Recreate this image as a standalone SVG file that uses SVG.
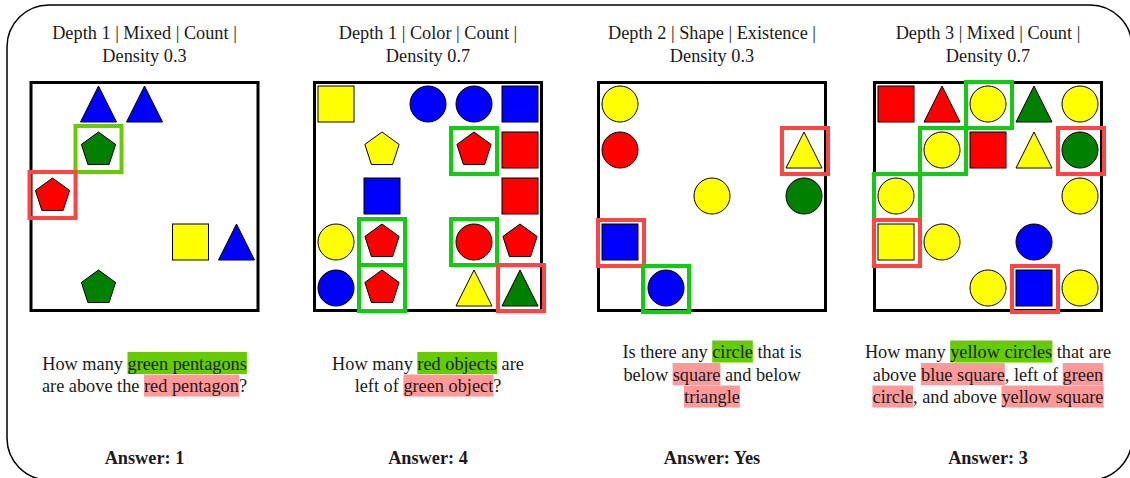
<svg xmlns="http://www.w3.org/2000/svg" xmlns:xlink="http://www.w3.org/1999/xlink" width="1130" height="478" viewBox="0 0 1130 478">
<style>
.sh{stroke:#000;stroke-width:1}
.r{fill:#ff0000}.b{fill:#0000ff}.y{fill:#ffff00}.g{fill:#008000}
.frame{fill:#fff;stroke:#000;stroke-width:3}
.bg{fill:none;stroke:#11cc11;stroke-width:4}
.bg1{fill:none;stroke:#66cc00;stroke-width:4}
.br{fill:none;stroke:#ff4444;stroke-width:4}
.title{font-family:"Liberation Serif","Times New Roman",serif;font-size:18.3px;fill:#1a1a1a;text-anchor:middle}
.q{font-family:"Liberation Serif","Times New Roman",serif;font-size:18.3px;fill:#1a1a1a;text-anchor:middle}
.ans{font-family:"Liberation Serif","Times New Roman",serif;font-size:18.3px;font-weight:bold;fill:#1a1a1a;text-anchor:middle}
.hg{fill:#66cc00}.hr{fill:#ff9999}
</style>
<defs>
<polygon id="pent" points="0,-18 17.12,-5.56 10.58,14.56 -10.58,14.56 -17.12,-5.56"/>
<polygon id="tri" points="0,-18 18,18 -18,18"/>
<rect id="sq" x="-18" y="-18" width="36" height="36"/>
<circle id="ci" r="18"/>
<rect id="box" x="-23" y="-23" width="46" height="46"/>
</defs>
<rect x="7" y="5" width="1125" height="475" rx="42" ry="42" fill="#fff" stroke="#000" stroke-width="1.5"/>

<g id="panel1">
<text class="title" x="144.5" y="39">Depth 1 | Mixed | Count |</text>
<text class="title" x="144.5" y="62">Density 0.3</text>
<rect class="frame" x="31" y="82.5" width="227" height="228"/>
<use href="#tri" class="sh b" x="98.5" y="104"/>
<use href="#tri" class="sh b" x="144.5" y="104"/>
<use href="#pent" class="sh g" x="98.5" y="150"/>
<use href="#pent" class="sh r" x="52.5" y="196"/>
<use href="#sq" class="sh y" x="190.5" y="242"/>
<use href="#tri" class="sh b" x="236.5" y="242"/>
<use href="#pent" class="sh g" x="98.5" y="288"/>
<use href="#box" class="bg1" x="98.5" y="149"/>
<use href="#box" class="br" x="52.5" y="195"/>
<rect class="hg" x="127.5" y="352" width="119.4" height="22"/>
<rect class="hr" x="144" y="374.5" width="95" height="22"/>
<text class="q" x="144.5" y="369.5">How many green pentagons</text>
<text class="q" x="144.5" y="392">are above the red pentagon?</text>
<text class="ans" x="144.5" y="464">Answer: 1</text>
</g>

<g id="panel2">
<text class="title" x="428" y="39">Depth 1 | Color | Count |</text>
<text class="title" x="428" y="62">Density 0.7</text>
<rect class="frame" x="314.5" y="82.5" width="227" height="228"/>
<use href="#sq" class="sh y" x="336" y="104"/>
<use href="#ci" class="sh b" x="428" y="104"/>
<use href="#ci" class="sh b" x="474" y="104"/>
<use href="#sq" class="sh b" x="520" y="104"/>
<use href="#pent" class="sh y" x="382" y="150"/>
<use href="#pent" class="sh r" x="474" y="150"/>
<use href="#sq" class="sh r" x="520" y="150"/>
<use href="#sq" class="sh b" x="382" y="196"/>
<use href="#sq" class="sh r" x="520" y="196"/>
<use href="#ci" class="sh y" x="336" y="242"/>
<use href="#pent" class="sh r" x="382" y="242"/>
<use href="#ci" class="sh r" x="474" y="242"/>
<use href="#pent" class="sh r" x="520" y="242"/>
<use href="#ci" class="sh b" x="336" y="288"/>
<use href="#pent" class="sh r" x="382" y="288"/>
<use href="#tri" class="sh y" x="474" y="288"/>
<use href="#tri" class="sh g" x="520" y="288"/>
<use href="#box" class="bg" x="474" y="151"/>
<use href="#box" class="bg" x="382" y="242"/>
<use href="#box" class="bg" x="474" y="242"/>
<use href="#box" class="bg" x="382" y="288"/>
<use href="#box" class="br" x="521" y="288"/>
<rect class="hg" x="417.3" y="352" width="79.8" height="22"/>
<rect class="hr" x="403.4" y="374.5" width="89.9" height="22"/>
<text class="q" x="428" y="369.5">How many red objects are</text>
<text class="q" x="428" y="392">left of green object?</text>
<text class="ans" x="428" y="464">Answer: 4</text>
</g>

<g id="panel3">
<text class="title" x="712" y="39">Depth 2 | Shape | Existence |</text>
<text class="title" x="712" y="62">Density 0.3</text>
<rect class="frame" x="598.5" y="82.5" width="227" height="228"/>
<use href="#ci" class="sh y" x="620" y="104"/>
<use href="#ci" class="sh r" x="620" y="150"/>
<use href="#tri" class="sh y" x="804" y="150"/>
<use href="#ci" class="sh y" x="712" y="196"/>
<use href="#ci" class="sh g" x="804" y="196"/>
<use href="#sq" class="sh b" x="620" y="242"/>
<use href="#ci" class="sh b" x="666" y="288"/>
<use href="#box" class="br" x="805" y="151"/>
<use href="#box" class="br" x="621" y="243"/>
<use href="#box" class="bg" x="666" y="289"/>
<rect class="hg" x="712.2" y="340.5" width="40.6" height="22"/>
<rect class="hr" x="672.6" y="363" width="47.8" height="22"/>
<rect class="hr" x="684" y="385.5" width="55.9" height="22"/>
<text class="q" x="712" y="358">Is there any circle that is</text>
<text class="q" x="712" y="380.5">below square and below</text>
<text class="q" x="712" y="403">triangle</text>
<text class="ans" x="712" y="464">Answer: Yes</text>
</g>

<g id="panel4">
<text class="title" x="988" y="39">Depth 3 | Mixed | Count |</text>
<text class="title" x="988" y="62">Density 0.7</text>
<rect class="frame" x="874.5" y="82.5" width="227" height="228"/>
<use href="#sq" class="sh r" x="896" y="104"/>
<use href="#tri" class="sh r" x="942" y="104"/>
<use href="#ci" class="sh y" x="988" y="104"/>
<use href="#tri" class="sh g" x="1034" y="104"/>
<use href="#ci" class="sh y" x="1080" y="104"/>
<use href="#ci" class="sh y" x="942" y="150"/>
<use href="#sq" class="sh r" x="988" y="150"/>
<use href="#tri" class="sh y" x="1034" y="150"/>
<use href="#ci" class="sh g" x="1080" y="150"/>
<use href="#ci" class="sh y" x="896" y="196"/>
<use href="#ci" class="sh y" x="1080" y="196"/>
<use href="#sq" class="sh y" x="896" y="242"/>
<use href="#ci" class="sh y" x="942" y="242"/>
<use href="#ci" class="sh b" x="1034" y="242"/>
<use href="#ci" class="sh y" x="988" y="288"/>
<use href="#sq" class="sh b" x="1034" y="288"/>
<use href="#ci" class="sh y" x="1080" y="288"/>
<use href="#box" class="bg" x="989" y="105"/>
<use href="#box" class="bg" x="943" y="151"/>
<use href="#box" class="bg" x="897" y="197"/>
<use href="#box" class="br" x="1081" y="151"/>
<use href="#box" class="br" x="897" y="243"/>
<use href="#box" class="br" x="1035" y="289"/>
<rect class="hg" x="950.2" y="340.5" width="102.2" height="22"/>
<rect class="hr" x="920.9" y="363" width="83.9" height="22"/>
<rect class="hr" x="1062.7" y="363" width="40.6" height="22"/>
<rect class="hr" x="872.4" y="385.5" width="40.6" height="22"/>
<rect class="hr" x="1001.5" y="385.5" width="102.2" height="22"/>
<text class="q" x="988" y="358">How many yellow circles that are</text>
<text class="q" x="988" y="380.5">above blue square, left of green</text>
<text class="q" x="988" y="403">circle, and above yellow square</text>
<text class="ans" x="988" y="464">Answer: 3</text>
</g>

<g id="connectors"></g>
</svg>
